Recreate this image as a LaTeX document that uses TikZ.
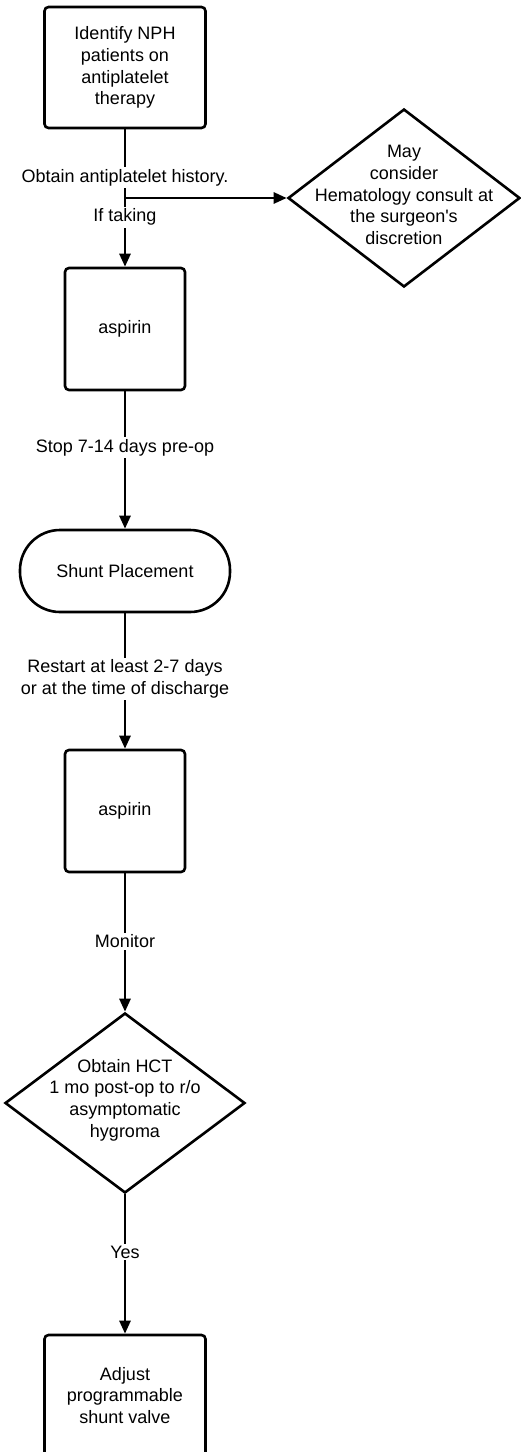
\documentclass[tikz,border=0pt]{standalone}
\usepackage{fontspec}
\setmainfont{Liberation Sans}
\usetikzlibrary{shapes.geometric,arrows.meta}

\tikzset{every picture/.style={line width=2.6pt}}
\tikzset{
  stepbox/.style={draw, rectangle, rounded corners=4pt, align=center, inner sep=0pt},
  decision/.style={draw, diamond, inner sep=0pt},
  terminal/.style={draw, rectangle, rounded corners=40pt, inner sep=0pt},
  edgelabel/.style={fill=white, inner sep=2pt, align=center},
  flow/.style={-{Triangle[length=13pt,width=11pt]}},
}

\begin{document}
\begin{tikzpicture}[x=1pt,y=1pt,yscale=-1,xscale=1,font=\fontsize{18}{21.7}\selectfont]
\useasboundingbox (0,0) rectangle (521,1452);

%Shape: Rectangle
\node[stepbox, minimum width=161pt, minimum height=121pt] (identify) at (125,67.5) {Identify NPH\\patients on\\antiplatelet\\therapy};
%Shape: Diamond
\node[decision, minimum width=232pt, minimum height=178pt] (consult) at (404,198) {};
% Text Node
\node[align=center] (consulttext) at (404,195) {May\\consider\\Hematology consult at\\the surgeon\textquotesingle s\\discretion};
%Shape: Rectangle
\node[stepbox, minimum width=120pt, minimum height=122pt] (aspirin1) at (125,329) {aspirin};
%Shape: Terminator
\node[terminal, minimum width=210pt, minimum height=82pt] (shunt) at (125,571) {Shunt Placement};
%Shape: Rectangle
\node[stepbox, minimum width=120pt, minimum height=122pt] (aspirin2) at (125,811) {aspirin};
%Shape: Diamond
\node[decision, minimum width=240pt, minimum height=180pt] (hct) at (125,1103) {};
% Text Node
\node[align=center] (hcttext) at (125,1100) {Obtain HCT\\1 mo post-op to r/o\\asymptomatic\\hygroma};
%Shape: Rectangle
\node[stepbox, minimum width=161pt, minimum height=121pt] (adjust) at (125,1395.5) {Adjust\\programmable\\shunt valve};

%Straight Lines
\draw[flow] (identify) -- node[edgelabel, pos=0.35] (history) {Obtain antiplatelet history.}
  coordinate[pos=0.5] (split)
  node[edgelabel, pos=0.64] (taking) {If taking} (aspirin1);
\draw[flow] (split) -- (consult.west);
\draw[flow] (aspirin1) -- node[edgelabel, pos=0.41] (stop) {Stop 7-14 days pre-op} (shunt);
\draw[flow] (shunt) -- node[edgelabel, pos=0.485] (restart) {Restart at least 2-7 days\\or at the time of discharge} (aspirin2);
\draw[flow] (aspirin2) -- node[edgelabel, pos=0.49] (monitor) {Monitor} (hct);
\draw[flow] (hct) -- node[edgelabel, pos=0.415] (yes) {Yes} (adjust);

\end{tikzpicture}
\end{document}
